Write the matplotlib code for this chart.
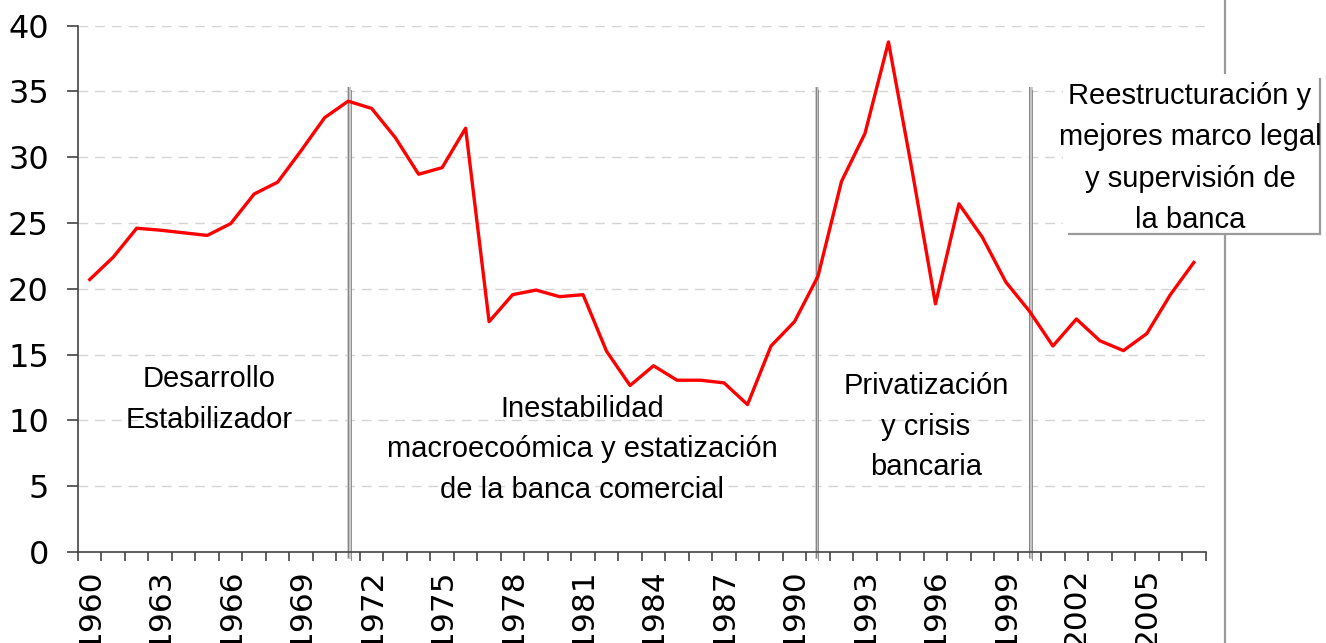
import matplotlib
matplotlib.use("Agg")
import matplotlib.pyplot as plt
import numpy as np
from matplotlib.lines import Line2D
from matplotlib.patches import Rectangle

years = list(range(1960, 2008))
values = [20.7, 22.4, 24.6, 24.45, 24.25, 24.05, 24.95, 27.2, 28.1, 30.5,
          33.0, 34.25, 33.7, 31.5, 28.7, 29.2, 32.2, 17.5, 19.55, 19.9,
          19.4, 19.55, 15.25, 12.65, 14.15, 13.05, 13.05, 12.85, 11.2, 15.65,
          17.5, 20.95, 28.15, 31.8, 38.75, 29.05, 18.85, 26.45, 23.9, 20.5,
          18.3, 15.65, 17.7, 16.05, 15.3, 16.6, 19.55, 22.0]
label_years = years[::3]
yticks = [0, 5, 10, 15, 20, 25, 30, 35, 40]
period_breaks = [1971.05, 1990.95, 2000.05]
period_labels = ["Desarrollo\nEstabilizador",
                 "Inestabilidad\nmacroecoómica y estatización\nde la banca comercial",
                 "Privatización\ny crisis\nbancaria"]
period_label_pos = [(1965.08, 11.6), (1980.95, 7.8), (1995.6, 9.5)]
box_label = "Reestructuración y\nmejores marco legal\ny supervisión de\nla banca"

W, H = 1326, 643
fig = plt.figure(figsize=(W / 100, H / 100), dpi=100)
ax = fig.add_axes([78 / W, 1 - 552 / H, (1205.6 - 78) / W, (552 - 25.5) / H])

ax.set_xlim(1959.5, 2007.5)
ax.set_ylim(0, 40)

# gridlines
for v in yticks[1:]:
    ax.axhline(v, color="#d4d4d4", lw=1.0, dashes=(7, 5), zorder=1)

# period separators
for xb in period_breaks:
    ax.plot([xb, xb], [-0.5, 35.3], color="#c4c4c4", lw=2.6, zorder=2,
            clip_on=False, solid_capstyle="butt")
    ax.plot([xb - 0.05, xb - 0.05], [-0.4, 35.3], color="#858585", lw=0.7,
            zorder=2, clip_on=False)
    ax.plot([xb + 0.07, xb + 0.07], [-0.6, 35.1], color="#909090", lw=0.7,
            zorder=2, clip_on=False)

ax.plot(years, values, color="#ff0000", lw=2.4, zorder=3)

lab_font = ["Liberation Sans", "DejaVu Sans"]
for txt, (px, py) in zip(period_labels, period_label_pos):
    ax.text(px, py, txt, ha="center", va="center", fontsize=21,
            family=lab_font, linespacing=1.57, color="black", zorder=4)

# spines
for s in ["top", "right"]:
    ax.spines[s].set_visible(False)
for s in ["left", "bottom"]:
    ax.spines[s].set_color("#444444")
    ax.spines[s].set_linewidth(1.2)

ax.set_yticks(yticks)
ax.set_yticklabels([str(v) for v in yticks], fontsize=23, family="DejaVu Sans")
ax.tick_params(axis="y", direction="out", length=8, width=1.2,
               color="#444444", pad=13)

ax.set_xticks(np.arange(1959.5, 2008.0, 1.0))
ax.set_xticklabels([])
ax.tick_params(axis="x", which="major", direction="out", length=6.5, width=1.2,
               color="#444444")
ax.set_xticks(label_years, minor=True)
ax.set_xticklabels([str(y) for y in label_years], minor=True, rotation=90,
                   fontsize=22.5, family="DejaVu Sans")
ax.tick_params(axis="x", which="minor", length=0, pad=11.5)
for lbl in ax.get_xticklabels(minor=True):
    lbl.set_va("top")

# right border line of the chart area
fig.add_artist(Line2D([1224.5 / W] * 2, [0, 1], transform=fig.transFigure,
                      color="#9a9a9a", lw=1.6, zorder=5))

# text box at top right
bx0, by0, bx1, by1 = 1063, 74, 1320, 234
fig.add_artist(Rectangle((bx0 / W, 1 - by1 / H), (bx1 - bx0) / W, (by1 - by0) / H,
                         transform=fig.transFigure, facecolor="white",
                         edgecolor="none", zorder=6))
fig.add_artist(Line2D([1069 / W, bx1 / W], [1 - by1 / H] * 2, transform=fig.transFigure,
                      color="#9a9a9a", lw=1.6, zorder=7))
fig.add_artist(Line2D([bx1 / W] * 2, [1 - 79 / H, 1 - by1 / H], transform=fig.transFigure,
                      color="#9a9a9a", lw=1.6, zorder=7))
fig.text(1190 / W, 1 - 158 / H, box_label, ha="center", va="center", fontsize=21,
         family=lab_font, linespacing=1.6, color="black", zorder=8)

fig.savefig("out.png", dpi=100, facecolor="white")
